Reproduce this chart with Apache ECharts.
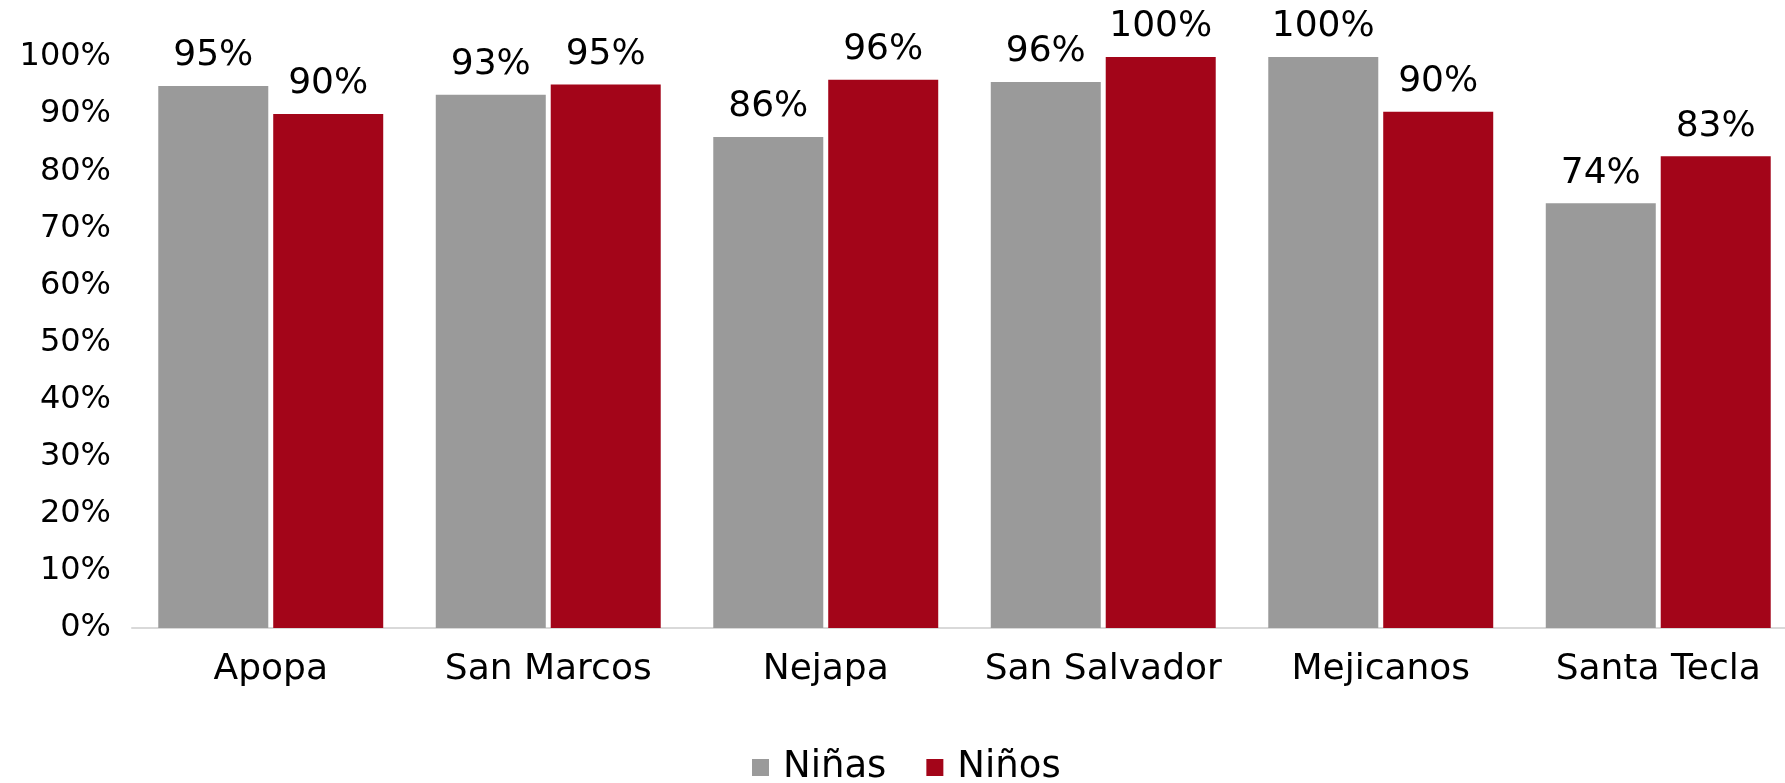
<!DOCTYPE html>
<html>
<head>
<meta charset="utf-8">
<script src="https://cdn.jsdelivr.net/npm/echarts@6/dist/echarts.min.js"></script>
<style>
  html, body { margin: 0; padding: 0; background: #fff; }
  #chart { width: 1785px; height: 783px; }
</style>
</head>
<body>
<div id="chart"></div>
<script>
// datos
const categories = ['Apopa', 'San Marcos', 'Nejapa', 'San Salvador', 'Mejicanos', 'Santa Tecla']
const ninas = [94.9, 93.4, 86.0, 95.6, 100, 74.4]
const ninos = [90.0, 95.2, 96.0, 100, 90.4, 82.6]
const yTicks = [0, 10, 20, 30, 40, 50, 60, 70, 80, 90, 100]

const FONT = 'DejaVu Sans'
const GRAY = '#9a9a9a'
const RED = '#a30519'

const chart = echarts.init(document.getElementById('chart'))

const labelCfg = {
  show: true,
  position: 'top',
  distance: 12,
  color: '#000',
  fontFamily: FONT,
  fontSize: 36,
  formatter: p => Math.round(p.value) + '%'
}

chart.setOption({
  animation: false,
  textStyle: { fontFamily: FONT },
  // el grafico original queda recortado a la derecha
  grid: { left: 132, right: -12, top: 57, bottom: 155, outerBoundsMode: 'none' },
  legend: {
    top: 744,
    left: 747,
    icon: 'rect',
    itemWidth: 17,
    itemHeight: 17,
    itemGap: 40,
    textStyle: { fontFamily: FONT, fontSize: 37, color: '#000', padding: [0, 0, 0, 9] },
    data: ['Niñas', 'Niños']
  },
  xAxis: {
    type: 'category',
    data: categories,
    axisLine: { lineStyle: { color: '#d9d9d9', width: 2 } },
    axisTick: { show: false },
    axisLabel: { color: '#000', fontSize: 36, margin: 24, interval: 0, fontFamily: FONT }
  },
  yAxis: {
    type: 'value',
    min: yTicks[0],
    max: yTicks[yTicks.length - 1],
    interval: 10,
    splitLine: { show: false },
    axisLine: { show: false },
    axisTick: { show: false },
    axisLabel: { color: '#000', fontSize: 32, margin: 21, fontFamily: FONT, formatter: v => v + '%' }
  },
  series: [
    {
      name: 'Niñas',
      type: 'bar',
      data: ninas,
      barWidth: 110,
      barGap: '4.5%',
      itemStyle: { color: GRAY },
      label: labelCfg
    },
    {
      name: 'Niños',
      type: 'bar',
      data: ninos,
      barWidth: 110,
      barGap: '4.5%',
      itemStyle: { color: RED },
      label: labelCfg
    }
  ]
})
</script>
</body>
</html>
